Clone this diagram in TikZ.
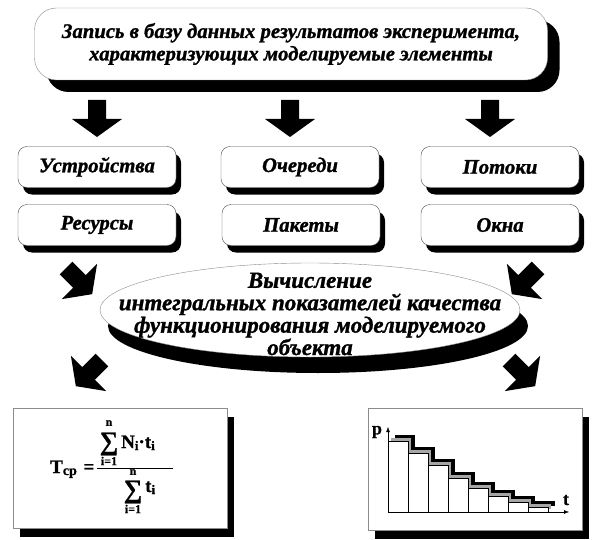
\documentclass[tikz,border=0pt]{standalone}
\usepackage{fontspec}
\setmainfont{Liberation Serif}[BoldItalicFeatures={FakeBold=1.2},BoldFeatures={FakeBold=0.8}]
\usetikzlibrary{arrows.meta,shapes.geometric,shadows,positioning}

\tikzset{
  lbl/.style={font=\fontsize{20.7}{22.5}\selectfont\bfseries\itshape},
  frm/.style={font=\fontsize{19}{20}\selectfont\bfseries,inner sep=0pt},
  lim/.style={font=\fontsize{12}{12}\selectfont\bfseries,inner sep=0pt},
  sumsign/.style={font=\fontsize{26}{26}\selectfont\bfseries,inner sep=0pt},
  elbox/.style={draw=black!70,thin,fill=white,rounded corners=9pt,minimum width=158pt,minimum height=41pt,lbl,
    drop shadow={fill=black,opacity=1,shadow xshift=5pt,shadow yshift=-7pt}},
  pnlbox/.style={draw=black!45,thin,fill=white,minimum width=214pt,minimum height=120pt,
    drop shadow={fill=black,opacity=1,shadow xshift=7pt,shadow yshift=-9pt}},
  blockarrow/.pic={\fill (-9,0)--(9,0)--(9,19)--(25,19)--(0,37)--(-25,19)--(-9,19)--cycle;}
}

\begin{document}
\begin{tikzpicture}[x=1pt,y=-1pt]
  \useasboundingbox (0,0) rectangle (599,540);
  % top record box
  \node[draw=black!45,thin,fill=white,rounded corners=22pt,minimum width=513pt,minimum height=72pt,lbl,align=center,
    drop shadow={fill=black,opacity=1,shadow xshift=12pt,shadow yshift=-12pt}] (rec) at (291,44)
    {Запись в базу данных результатов эксперимента,\\характеризующих моделируемые элементы};
  \foreach \x in {97,290,490}{\pic at (\x,100) {blockarrow};}
  % element boxes
  \node[elbox] (dev) at (97,167) {Устройства};
  \node[elbox] (que) at (300,167) {Очереди};
  \node[elbox] (flw) at (500,167) {Потоки};
  \node[elbox] (res) at (97,225) {Ресурсы};
  \node[elbox] (pck) at (301,225) {Пакеты};
  \node[elbox] (win) at (500,225) {Окна};
  % calculation ellipse
  \node[ellipse,draw=black!45,thin,fill=white,minimum width=420pt,minimum height=94pt,inner sep=0pt,
    drop shadow={fill=black,opacity=1,shadow xshift=8pt,shadow yshift=-16pt}] (calc) at (310,310) {};
  \node[lbl,font=\fontsize{23}{22.4}\selectfont\bfseries\itshape,align=center] (calctxt) at (310,314)
    {Вычисление\\интегральных показателей качества\\функционирования моделируемого\\объекта};
  \pic[rotate=45] at (66,268) {blockarrow};
  \pic[rotate=-45] at (538,268) {blockarrow};
  \pic[rotate=-45] at (102,360) {blockarrow};
  \pic[rotate=45] at (509,360) {blockarrow};
  % result panels
  \node[pnlbox] (form) at (120,468) {};
  \node[pnlbox,minimum height=122pt] (chart) at (475,469) {};
  % mean time formula
  \node[frm,anchor=base west] (tsym) at (50,473) {T\raisebox{-2pt}{\fontsize{14}{14}\selectfont ср}};
  \node[frm,anchor=base] (eqs) at (89,473) {=};
  \coordinate (fracl) at (97,468);
  \coordinate (fracr) at (173,468);
  \draw[semithick] (fracl)--(fracr);
  \node[sumsign] (suma) at (109,444) {∑};
  \node[lim] (na) at (109,423) {n};
  \node[lim] (ia) at (109,461) {i=1};
  \node[frm,anchor=base west] (numa) at (121,448) {N\raisebox{-2pt}{\fontsize{13}{13}\selectfont i}·t\raisebox{-2pt}{\fontsize{13}{13}\selectfont i}};
  \node[sumsign] (sumb) at (133,492) {∑};
  \node[lim] (nb) at (133,472) {n};
  \node[lim] (ib) at (133,509) {i=1};
  \node[frm,anchor=base west] (denb) at (145,492) {t\raisebox{-2pt}{\fontsize{13}{13}\selectfont i}};
  % histogram
  \foreach \i/\h in {0/441,1/453,2/465,3/478,4/488,5/496,6/502,7/507}{
    \fill[black] (388+20*\i+7,\h-6) rectangle (388+20*\i+27,506);
    \fill[black!35] (388+20*\i+3,\h-3) rectangle (388+20*\i+23,509);
    \draw[fill=white,thin] (388+20*\i,\h) rectangle (388+20*\i+20,512);
  }
  \draw[-{Latex[length=5pt]},thin] (388,512)--(388,427);
  \draw[-{Latex[length=5pt]},thin] (388,512)--(569,512);
  \node[font=\fontsize{18}{20}\selectfont\bfseries] (plab) at (377,432) {p};
  \node[font=\fontsize{18}{20}\selectfont\bfseries] (tlab) at (566,500) {t};
\end{tikzpicture}
\end{document}
